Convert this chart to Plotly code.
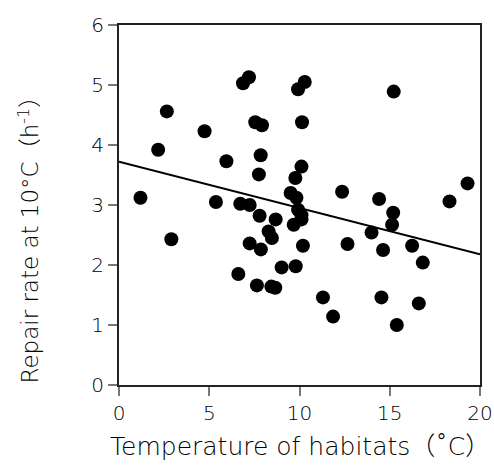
import plotly.graph_objects as go

temperature = [1.19, 2.17, 2.65, 2.90, 4.74, 5.37, 5.95, 6.61, 6.72, 6.87, 7.20, 7.24, 7.24,
               7.55, 7.92, 7.85, 7.75, 7.64, 7.79, 7.86, 8.29, 8.47, 8.44, 8.66, 8.68, 9.01,
               9.51, 9.83, 9.77, 9.68, 9.79, 9.92, 10.29, 10.14, 10.11, 9.92, 10.11, 10.11,
               10.19, 11.30, 11.86, 12.36, 12.66, 13.99, 14.41, 14.63, 14.54, 15.19, 15.13,
               15.22, 15.39, 16.24, 16.61, 16.83, 18.31, 19.31]
repair_rate = [3.12, 3.92, 4.56, 2.43, 4.23, 3.05, 3.73, 1.85, 3.02, 5.03, 5.13, 3.00, 2.36,
               4.38, 4.33, 3.83, 3.51, 1.66, 2.82, 2.26, 2.56, 2.45, 1.64, 1.62, 2.76, 1.96,
               3.20, 3.12, 3.45, 2.67, 1.98, 4.93, 5.05, 4.38, 3.64, 2.92, 2.83, 2.76,
               2.32, 1.46, 1.14, 3.22, 2.35, 2.54, 3.10, 2.25, 1.46, 2.87, 2.67,
               4.89, 1.00, 2.32, 1.36, 2.04, 3.06, 3.36]

fit_x = [0, 20]
fit_y = [3.72, 2.18]

x_ticks = [0, 5, 10, 15, 20]
y_ticks = [0, 1, 2, 3, 4, 5, 6]

x_title = "Temperature of habitats（˚C）"
y_title = "Repair rate at 10°C（h<sup>-1</sup>）"

FONT = "DejaVu Sans, Noto Sans CJK JP, sans-serif"
TXT = "#000000"

fig = go.Figure()
fig.add_trace(go.Scatter(x=fit_x, y=fit_y, mode="lines",
                         line=dict(color="black", width=2), showlegend=False,
                         hoverinfo="skip"))
fig.add_trace(go.Scatter(x=temperature, y=repair_rate, mode="markers",
                         marker=dict(color="black", size=14, line=dict(width=0)),
                         showlegend=False))

axis_common = dict(ticks="outside", ticklen=9, tickcolor="#777", tickwidth=1.5,
                   showgrid=False, zeroline=False, showline=True, linecolor="#222",
                   linewidth=2, mirror=True, automargin=False,
                   tickfont=dict(size=20, color=TXT, family=FONT, weight=300))

fig.update_layout(
    width=494, height=466,
    margin=dict(l=119, r=14, t=25, b=81),
    paper_bgcolor="white", plot_bgcolor="white",
    font=dict(family=FONT, size=20, color=TXT),
    xaxis=dict(range=[0, 20], tickvals=x_ticks, **axis_common),
    yaxis=dict(range=[0, 6], tickvals=y_ticks, **axis_common),
    annotations=[
        dict(text=x_title, xref="paper", yref="paper", x=0.5, y=-0.172,
             xanchor="center", yanchor="middle", showarrow=False,
             font=dict(size=25, color=TXT, family=FONT, weight=300)),
        dict(text=y_title, xref="paper", yref="paper", x=-0.252, y=0.418,
             xanchor="center", yanchor="middle", showarrow=False, textangle=-90,
             font=dict(size=23, color=TXT, family=FONT, weight=300)),
    ],
)

fig.write_html("out.html", config={"displayModeBar": False},
               post_script="document.body.style.margin='0';")
